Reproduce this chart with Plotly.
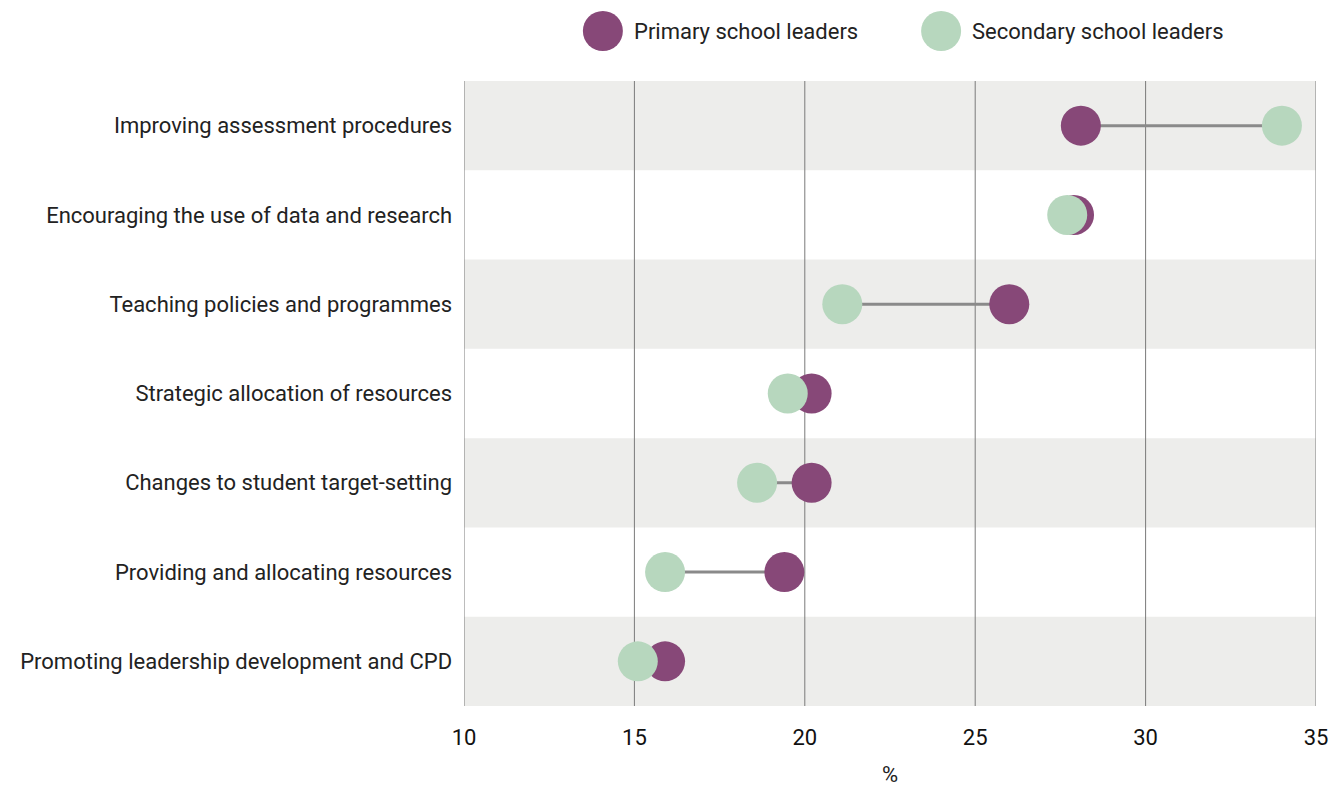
import plotly.graph_objects as go

categories = [
    "Improving assessment procedures",
    "Encouraging the use of data and research",
    "Teaching policies and programmes",
    "Strategic allocation of resources",
    "Changes to student target-setting",
    "Providing and allocating resources",
    "Promoting leadership development and CPD",
]
primary = [28.1, 27.9, 26.0, 20.2, 20.2, 19.4, 15.9]
secondary = [34.0, 27.7, 21.1, 19.5, 18.6, 15.9, 15.1]
x_ticks = [10, 15, 20, 25, 30, 35]
series_names = ["Primary school leaders", "Secondary school leaders"]

PURPLE = "#874878"
GREEN = "#b7d7be"
FONT = "Roboto, sans-serif"

fig = go.Figure()

# connectors
cx, cy = [], []
for c, p, s in zip(categories, primary, secondary):
    cx += [p, s, None]
    cy += [c, c, None]
fig.add_trace(go.Scatter(x=cx, y=cy, mode="lines", line=dict(color="#8a8a8a", width=3),
                         showlegend=False, hoverinfo="skip"))
fig.add_trace(go.Scatter(x=primary, y=categories, mode="markers", name=series_names[0],
                         marker=dict(color=PURPLE, size=40, line=dict(width=0)), showlegend=False))
fig.add_trace(go.Scatter(x=secondary, y=categories, mode="markers", name=series_names[1],
                         marker=dict(color=GREEN, size=40, line=dict(width=0)), showlegend=False))

shapes = []
for i in range(len(categories)):
    if i % 2 == 0:
        shapes.append(dict(type="rect", xref="paper", yref="y", x0=0, x1=1,
                           y0=i - 0.5, y1=i + 0.5, fillcolor="#ededeb",
                           line=dict(width=0), layer="below"))
for t in x_ticks:
    shapes.append(dict(type="line", xref="x", yref="paper", x0=t, x1=t, y0=0, y1=1,
                       line=dict(color="#7a7a7a", width=1), layer="below"))

# legend built from pixel-sized circles + text
annotations = []
leg = [(0.163, PURPLE, series_names[0]), (0.56, GREEN, series_names[1])]
for xc, col, name in leg:
    shapes.append(dict(type="circle", xref="paper", yref="paper",
                       xsizemode="pixel", ysizemode="pixel",
                       xanchor=xc, yanchor=1.0, x0=-20, x1=20, y0=30, y1=70,
                       fillcolor=col, line=dict(width=0)))
    annotations.append(dict(xref="paper", yref="paper", x=xc, y=1.0, xshift=29, yshift=50,
                            text=name, showarrow=False, xanchor="left", yanchor="middle",
                            font=dict(size=22, color="#222222")))

fig.update_layout(
    width=1330, height=787,
    margin=dict(l=464, r=14, t=81, b=81),
    paper_bgcolor="white", plot_bgcolor="white",
    font=dict(family=FONT, color="#222222", size=22),
    showlegend=False,
    shapes=shapes, annotations=annotations,
    xaxis=dict(range=[10, 35], tickvals=x_ticks, showgrid=False, zeroline=False,
               showline=False, ticks="", tickfont=dict(size=22, color="#111111"),
               ticklabelstandoff=16, automargin=False,
               title=dict(text="%", font=dict(size=22), standoff=24)),
    yaxis=dict(categoryorder="array", categoryarray=categories, autorange=False,
               range=[len(categories) - 0.5, -0.5], showgrid=False, zeroline=False,
               showline=False, ticks="", ticksuffix="  ", tickfont=dict(size=22),
               automargin=False),
)

fig.write_html(
    "out.html",
    config={"displayModeBar": False},
    post_script="document.body.style.margin='0';document.body.style.overflow='hidden';",
)
